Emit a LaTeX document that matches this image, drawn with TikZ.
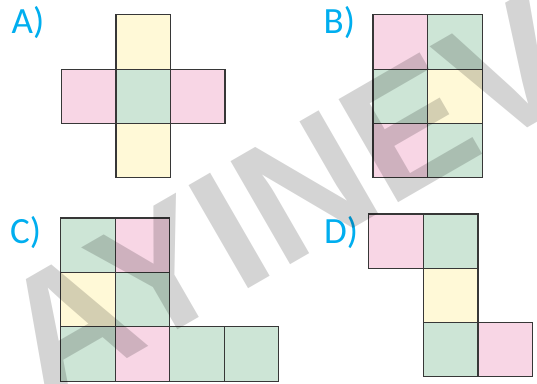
\documentclass[tikz,border=0pt]{standalone}
\usepackage{fontspec}
\newfontfamily\labelfont{Carlito}
\newfontfamily\wmfont{Liberation Sans}
\definecolor{cpink}{RGB}{248,214,229}
\definecolor{cgreen}{RGB}{205,229,214}
\definecolor{cyell}{RGB}{255,249,215}
\definecolor{cedge}{RGB}{55,55,55}
\definecolor{ccyan}{RGB}{0,174,239}
\tikzset{
  face/.style={draw=cedge, line width=1.2pt},
  pk/.style={face, fill=cpink},
  gr/.style={face, fill=cgreen},
  ye/.style={face, fill=cyell},
  lbl/.style={anchor=base west, inner sep=0pt, text=ccyan, font=\labelfont\fontsize{37}{37}\selectfont},
  wm/.style={anchor=base west, inner sep=0pt, rotate=30, text=black, text opacity=0.17,
    font=\wmfont\bfseries\fontsize{173}{173}\selectfont}
}
\newcommand{\sq}[4]{\path[#1] (#2,#3) rectangle ++(54.5,54.5);}
\begin{document}
\begin{tikzpicture}[x=1pt,y=-1pt]
\useasboundingbox (0,0) rectangle (537,383);
\clip (0,0) rectangle (537,383);
\fill[white] (0,0) rectangle (537,383);
% A
\node[lbl] (la) at (11.5,33.3) {A)};
\sq{ye}{116}{14.7}{}
\sq{pk}{61.3}{69.2}{}
\sq{gr}{116}{69.2}{}
\sq{pk}{170.5}{69.2}{}
\sq{ye}{116}{123.3}{}
% B
\node[lbl] (lb) at (323.5,33.3) {B)};
\sq{pk}{373}{14.7}{}
\sq{gr}{427.7}{14.7}{}
\sq{gr}{373}{69.2}{}
\sq{ye}{427.7}{69.2}{}
\sq{pk}{373}{123.3}{}
\sq{gr}{427.7}{123.3}{}
% C
\node[lbl] (lc) at (10,243.5) {C)};
\sq{gr}{60.7}{218}{}
\sq{pk}{115.2}{218}{}
\sq{ye}{60.7}{272.4}{}
\sq{gr}{115.2}{272.4}{}
\sq{gr}{60.7}{326.7}{}
\sq{pk}{115.2}{326.7}{}
\sq{gr}{169.7}{326.7}{}
\sq{gr}{224.2}{326.7}{}
% D
\node[lbl] (ld) at (324,243.5) {D)};
\sq{pk}{368.7}{214}{}
\sq{gr}{423.5}{214}{}
\sq{ye}{423.5}{268.3}{}
\sq{gr}{423.5}{322.3}{}
\sq{pk}{478}{322.3}{}
% watermark
\node[wm] (wmk) at (44,407) {AYINEV};
\end{tikzpicture}
\end{document}
